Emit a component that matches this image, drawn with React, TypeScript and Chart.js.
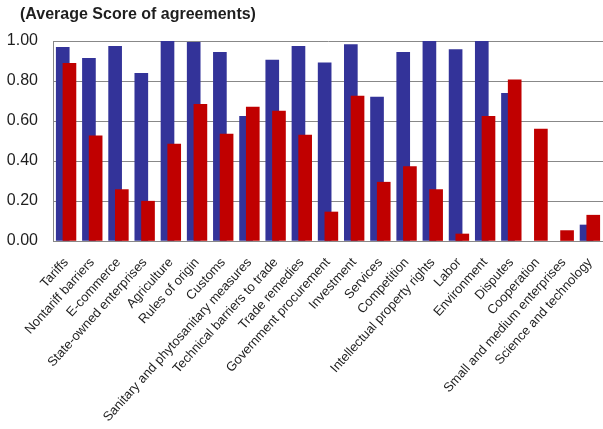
import React, { useEffect, useRef } from "react";
import { Chart, registerables } from "chart.js";

Chart.register(...registerables);

const categories = [
  "Tariffs",
  "Nontariff barriers",
  "E-commerce",
  "State-owned enterprises",
  "Agriculture",
  "Rules of origin",
  "Customs",
  "Sanitary and phytosanitary measures",
  "Technical barriers to trade",
  "Trade remedies",
  "Government procurement",
  "Investment",
  "Services",
  "Competition",
  "Intellectual property rights",
  "Labor",
  "Environment",
  "Disputes",
  "Cooperation",
  "Small and medium enterprises",
  "Science and technology",
];

const blueValues: (number | null)[] = [
  0.968, 0.913, 0.973, 0.838, 1.0, 0.993, 0.943, 0.623, 0.905, 0.973, 0.891,
  0.982, 0.72, 0.943, 1.0, 0.957, 1.0, 0.738, null, null, 0.08,
];

const redValues: (number | null)[] = [
  0.888, 0.526, 0.257, 0.199, 0.484, 0.683, 0.534, 0.669, 0.649, 0.529, 0.145,
  0.725, 0.294, 0.372, 0.257, 0.035, 0.623, 0.806, 0.559, 0.052, 0.129,
];

const yTicks = [0, 0.2, 0.4, 0.6, 0.8, 1.0];

const titleText = "(Average Score of agreements)";

// bars of the two series overlap by about half a bar, as in the source chart
const OVERLAP_SHIFT = 0.128;

export default function App() {
  const canvasRef = useRef<HTMLCanvasElement | null>(null);

  useEffect(() => {
    document.body.style.margin = "0";
    const canvas = canvasRef.current;
    if (!canvas) return;
    const font = "Arial, 'Liberation Sans', sans-serif";
    const blueData = blueValues.map((v, i) => ({ x: i - OVERLAP_SHIFT, y: v }));
    const redData = redValues.map((v, i) => ({ x: i + OVERLAP_SHIFT, y: v }));
    const chart = new Chart(canvas, {
      type: "bar",
      data: {
        datasets: [
          {
            data: blueData as any,
            backgroundColor: "#333399",
            borderWidth: 0,
            barThickness: 13,
            grouped: false,
            order: 1,
          },
          {
            data: redData as any,
            backgroundColor: "#C00000",
            borderWidth: 0,
            barThickness: 13,
            grouped: false,
            order: 0,
          },
        ],
      },
      options: {
        animation: false,
        responsive: false,
        maintainAspectRatio: false,
        parsing: false,
        layout: { padding: { top: 41, left: 0, right: 0, bottom: 0 } },
        plugins: {
          legend: { display: false },
          tooltip: { enabled: false },
          title: { display: false },
        },
        scales: {
          x: {
            type: "linear",
            min: -0.5,
            max: categories.length - 0.5,
            offset: false,
            afterBuildTicks: (axis: any) => {
              axis.ticks = categories.map((_, i) => ({ value: i }));
            },
            grid: { display: false, drawTicks: false },
            border: { display: true, color: "#888888", width: 1 },
            ticks: {
              autoSkip: false,
              maxRotation: 48,
              minRotation: 48,
              padding: 14,
              color: "#1e1e1e",
              font: { family: font, size: 13 },
              callback: (v: any) => categories[Math.round(Number(v))] ?? "",
            },
            afterFit: (axis: any) => {
              axis.height = 188;
              axis.paddingRight = 0;
              axis.paddingLeft = 0;
            },
          },
          y: {
            min: 0,
            max: 1,
            afterBuildTicks: (axis: any) => {
              axis.ticks = yTicks.map((v) => ({ value: v }));
            },
            grid: { color: "#888888", lineWidth: 1, drawTicks: false },
            border: { display: true, color: "#888888", width: 1 },
            ticks: {
              padding: 15,
              color: "#1e1e1e",
              font: { family: font, size: 16 },
              callback: (v: any) => Number(v).toFixed(2),
            },
            afterFit: (axis: any) => {
              axis.width = 53;
              axis.paddingTop = 0;
              axis.paddingBottom = 0;
            },
          },
        },
      },
    });
    return () => chart.destroy();
  }, []);

  return (
    <div style={{ position: "relative", width: 603, height: 429, background: "#ffffff" }}>
      <canvas ref={canvasRef} width={603} height={429} style={{ display: "block" }} />
      <div
        style={{
          position: "absolute",
          left: 20,
          top: 5,
          fontFamily: "Arial, 'Liberation Sans', sans-serif",
          fontWeight: "bold",
          fontSize: 16,
          color: "#1e1e1e",
          whiteSpace: "nowrap",
        }}
      >
        {titleText}
      </div>
    </div>
  );
}
